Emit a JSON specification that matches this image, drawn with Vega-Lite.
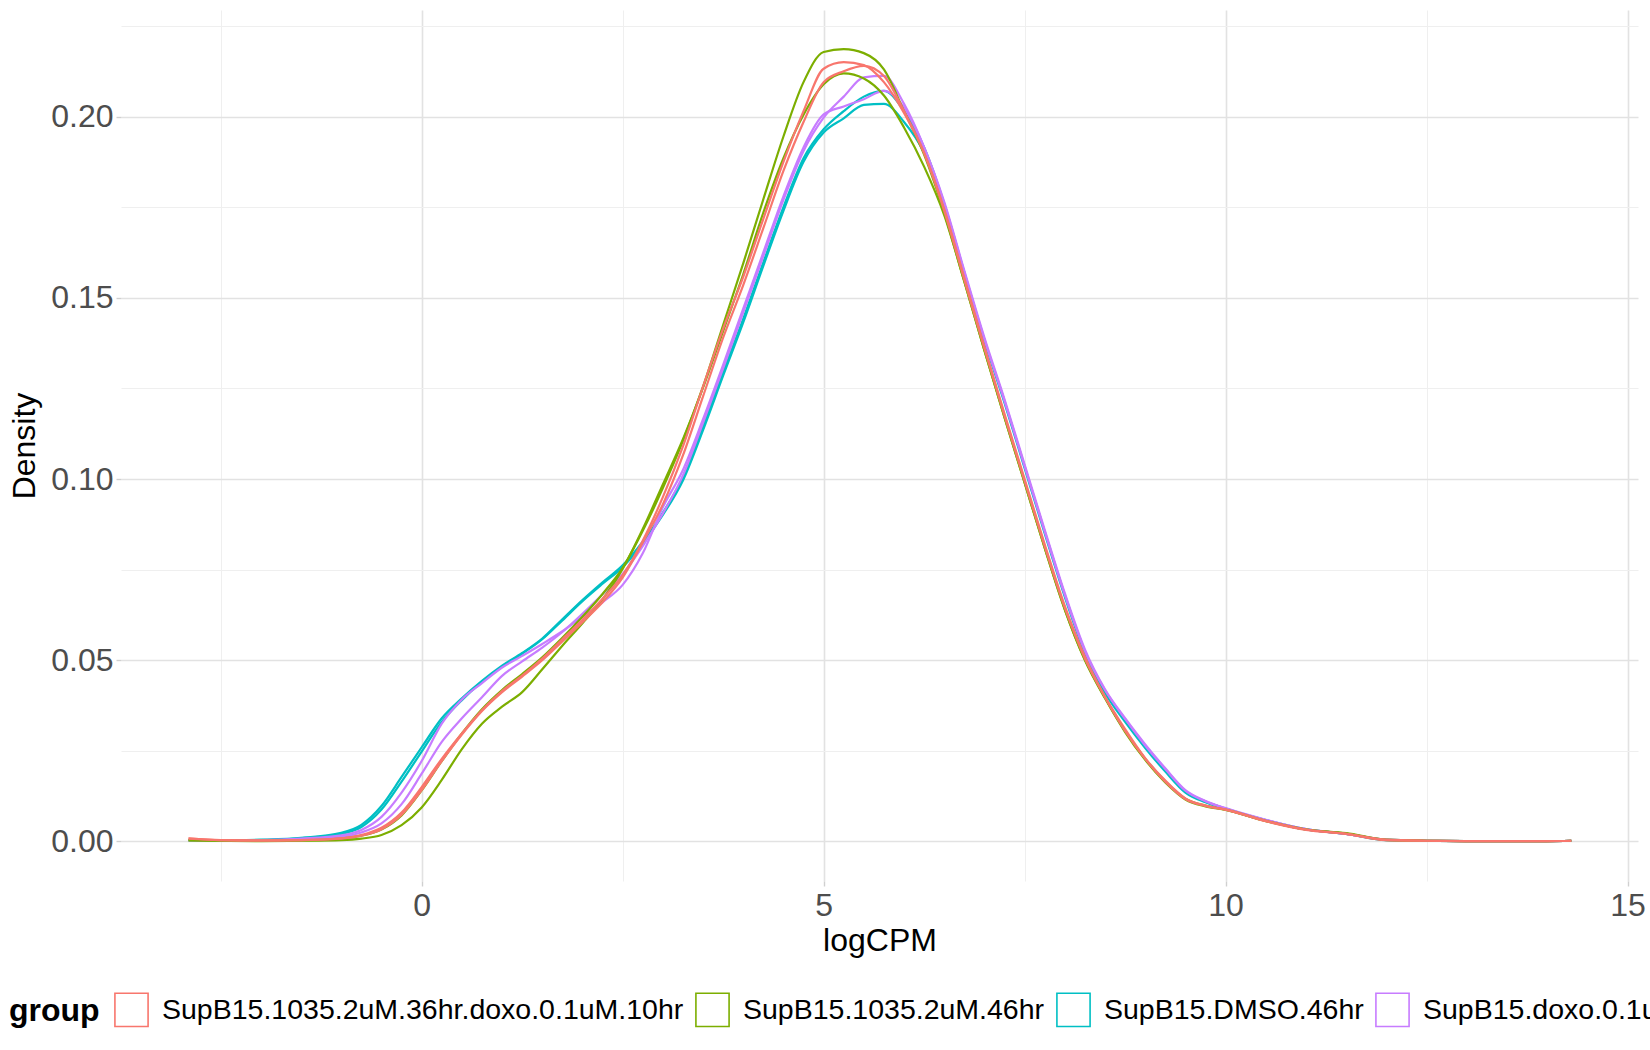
{
  "$schema": "https://vega.github.io/schema/vega-lite/v6.json",
  "width": 1517,
  "height": 871,
  "autosize": "none",
  "padding": {"left": 121, "top": 10, "right": 12, "bottom": 169},
  "background": "white",
  "config": {
    "view": {"stroke": null},
    "font": "Liberation Sans"
  },
  "datasets": {
    "samples": [
      {"sample": "r1", "group": "SupB15.1035.2uM.36hr.doxo.0.1uM.10hr"},
      {"sample": "r2", "group": "SupB15.1035.2uM.36hr.doxo.0.1uM.10hr"},
      {"sample": "g1", "group": "SupB15.1035.2uM.46hr"},
      {"sample": "g2", "group": "SupB15.1035.2uM.46hr"},
      {"sample": "c1", "group": "SupB15.DMSO.46hr"},
      {"sample": "c2", "group": "SupB15.DMSO.46hr"},
      {"sample": "p1", "group": "SupB15.doxo.0.1uM.10hr"},
      {"sample": "p2", "group": "SupB15.doxo.0.1uM.10hr"}
    ],
    "curves": [
      {"x": -2.9, "r1": 0.0009, "r2": 0.0008, "g1": 0.0004, "g2": 0.0003, "c1": 0.0004, "c2": 0.0004, "p1": 0.0004, "p2": 0.0004},
      {"x": -2.5, "r1": 0.0004, "r2": 0.0004, "g1": 0.0002, "g2": 0.0002, "c1": 0.0003, "c2": 0.0003, "p1": 0.0003, "p2": 0.0003},
      {"x": -2, "r1": 0.0003, "r2": 0.0002, "g1": 0.0002, "g2": 0.0001, "c1": 0.0005, "c2": 0.0004, "p1": 0.0004, "p2": 0.0003},
      {"x": -1.5, "r1": 0.0004, "r2": 0.0004, "g1": 0.0003, "g2": 0.0002, "c1": 0.001, "c2": 0.0009, "p1": 0.0008, "p2": 0.0006},
      {"x": -1, "r1": 0.0009, "r2": 0.0008, "g1": 0.0008, "g2": 0.0004, "c1": 0.0024, "c2": 0.0021, "p1": 0.0017, "p2": 0.0013},
      {"x": -0.75, "r1": 0.0018, "r2": 0.0016, "g1": 0.0016, "g2": 0.0008, "c1": 0.0046, "c2": 0.004, "p1": 0.0032, "p2": 0.0025},
      {"x": -0.5, "r1": 0.0038, "r2": 0.0034, "g1": 0.0033, "g2": 0.0018, "c1": 0.0098, "c2": 0.0088, "p1": 0.0068, "p2": 0.005},
      {"x": -0.25, "r1": 0.008, "r2": 0.0074, "g1": 0.0072, "g2": 0.0045, "c1": 0.0178, "c2": 0.0165, "p1": 0.0135, "p2": 0.0103},
      {"x": 0, "r1": 0.015, "r2": 0.0142, "g1": 0.0141, "g2": 0.0094, "c1": 0.026, "c2": 0.0248, "p1": 0.0222, "p2": 0.0187},
      {"x": 0.25, "r1": 0.0228, "r2": 0.0222, "g1": 0.0222, "g2": 0.017, "c1": 0.034, "c2": 0.033, "p1": 0.0325, "p2": 0.0275},
      {"x": 0.5, "r1": 0.0298, "r2": 0.0295, "g1": 0.0298, "g2": 0.0255, "c1": 0.0395, "c2": 0.039, "p1": 0.0392, "p2": 0.034},
      {"x": 0.75, "r1": 0.0362, "r2": 0.036, "g1": 0.0365, "g2": 0.0325, "c1": 0.0443, "c2": 0.044, "p1": 0.0437, "p2": 0.0398},
      {"x": 1, "r1": 0.0415, "r2": 0.0412, "g1": 0.0418, "g2": 0.0372, "c1": 0.0485, "c2": 0.0482, "p1": 0.048, "p2": 0.0457},
      {"x": 1.25, "r1": 0.0458, "r2": 0.0455, "g1": 0.0462, "g2": 0.0412, "c1": 0.052, "c2": 0.0518, "p1": 0.0512, "p2": 0.0497},
      {"x": 1.5, "r1": 0.0505, "r2": 0.05, "g1": 0.0508, "g2": 0.0475, "c1": 0.056, "c2": 0.0558, "p1": 0.0545, "p2": 0.0535},
      {"x": 1.75, "r1": 0.0558, "r2": 0.0552, "g1": 0.0562, "g2": 0.054, "c1": 0.0613, "c2": 0.061, "p1": 0.058, "p2": 0.0578},
      {"x": 2, "r1": 0.0612, "r2": 0.0605, "g1": 0.062, "g2": 0.0602, "c1": 0.0666, "c2": 0.0663, "p1": 0.062, "p2": 0.0628},
      {"x": 2.25, "r1": 0.067, "r2": 0.066, "g1": 0.0683, "g2": 0.0668, "c1": 0.0715, "c2": 0.0711, "p1": 0.066, "p2": 0.0682},
      {"x": 2.5, "r1": 0.0735, "r2": 0.0728, "g1": 0.0755, "g2": 0.0752, "c1": 0.0762, "c2": 0.0757, "p1": 0.0708, "p2": 0.0738},
      {"x": 2.75, "r1": 0.083, "r2": 0.0825, "g1": 0.0857, "g2": 0.0862, "c1": 0.0827, "c2": 0.0822, "p1": 0.0795, "p2": 0.0815},
      {"x": 3, "r1": 0.095, "r2": 0.093, "g1": 0.0975, "g2": 0.0985, "c1": 0.0907, "c2": 0.0901, "p1": 0.0922, "p2": 0.0905},
      {"x": 3.25, "r1": 0.109, "r2": 0.1065, "g1": 0.1105, "g2": 0.111, "c1": 0.1005, "c2": 0.0996, "p1": 0.1025, "p2": 0.101},
      {"x": 3.5, "r1": 0.1255, "r2": 0.1228, "g1": 0.1255, "g2": 0.1252, "c1": 0.1145, "c2": 0.1135, "p1": 0.1165, "p2": 0.1155},
      {"x": 3.75, "r1": 0.1415, "r2": 0.139, "g1": 0.1425, "g2": 0.1408, "c1": 0.1295, "c2": 0.1285, "p1": 0.1315, "p2": 0.1305},
      {"x": 4, "r1": 0.1558, "r2": 0.1535, "g1": 0.1595, "g2": 0.1565, "c1": 0.1442, "c2": 0.1432, "p1": 0.147, "p2": 0.146},
      {"x": 4.25, "r1": 0.1718, "r2": 0.1692, "g1": 0.1772, "g2": 0.1735, "c1": 0.1598, "c2": 0.1588, "p1": 0.1625, "p2": 0.1615},
      {"x": 4.5, "r1": 0.1875, "r2": 0.185, "g1": 0.1945, "g2": 0.1885, "c1": 0.175, "c2": 0.174, "p1": 0.178, "p2": 0.177},
      {"x": 4.75, "r1": 0.2015, "r2": 0.1985, "g1": 0.2095, "g2": 0.2005, "c1": 0.1885, "c2": 0.1875, "p1": 0.1915, "p2": 0.1905},
      {"x": 5, "r1": 0.2132, "r2": 0.2095, "g1": 0.2178, "g2": 0.2089, "c1": 0.1965, "c2": 0.1956, "p1": 0.2006, "p2": 0.1997},
      {"x": 5.25, "r1": 0.215, "r2": 0.2125, "g1": 0.2186, "g2": 0.2119, "c1": 0.2015, "c2": 0.1995, "p1": 0.2028, "p2": 0.2055},
      {"x": 5.5, "r1": 0.2142, "r2": 0.214, "g1": 0.2175, "g2": 0.2105, "c1": 0.2055, "c2": 0.2032, "p1": 0.2048, "p2": 0.2108},
      {"x": 5.75, "r1": 0.2095, "r2": 0.2112, "g1": 0.213, "g2": 0.2058, "c1": 0.2071, "c2": 0.2035, "p1": 0.2071, "p2": 0.2112},
      {"x": 6, "r1": 0.201, "r2": 0.2015, "g1": 0.2015, "g2": 0.197, "c1": 0.2015, "c2": 0.1985, "p1": 0.2025, "p2": 0.2035},
      {"x": 6.25, "r1": 0.19, "r2": 0.19, "g1": 0.1895, "g2": 0.1862, "c1": 0.1915, "c2": 0.19, "p1": 0.1915, "p2": 0.1915},
      {"x": 6.5, "r1": 0.174, "r2": 0.1745, "g1": 0.1735, "g2": 0.1728, "c1": 0.176, "c2": 0.175, "p1": 0.1765, "p2": 0.176},
      {"x": 6.75, "r1": 0.155, "r2": 0.1555, "g1": 0.1545, "g2": 0.1545, "c1": 0.157, "c2": 0.1565, "p1": 0.1575, "p2": 0.157},
      {"x": 7, "r1": 0.136, "r2": 0.1365, "g1": 0.1355, "g2": 0.1355, "c1": 0.1385, "c2": 0.138, "p1": 0.139, "p2": 0.1385},
      {"x": 7.25, "r1": 0.1175, "r2": 0.118, "g1": 0.117, "g2": 0.117, "c1": 0.1215, "c2": 0.121, "p1": 0.122, "p2": 0.1215},
      {"x": 7.5, "r1": 0.0995, "r2": 0.1, "g1": 0.099, "g2": 0.099, "c1": 0.1035, "c2": 0.103, "p1": 0.104, "p2": 0.1035},
      {"x": 7.75, "r1": 0.0815, "r2": 0.082, "g1": 0.081, "g2": 0.081, "c1": 0.0855, "c2": 0.085, "p1": 0.086, "p2": 0.0855},
      {"x": 8, "r1": 0.0645, "r2": 0.065, "g1": 0.064, "g2": 0.064, "c1": 0.068, "c2": 0.0675, "p1": 0.0685, "p2": 0.068},
      {"x": 8.25, "r1": 0.0505, "r2": 0.051, "g1": 0.05, "g2": 0.0502, "c1": 0.0525, "c2": 0.052, "p1": 0.053, "p2": 0.0525},
      {"x": 8.5, "r1": 0.0398, "r2": 0.04, "g1": 0.0395, "g2": 0.0397, "c1": 0.0415, "c2": 0.041, "p1": 0.042, "p2": 0.0418},
      {"x": 8.75, "r1": 0.0305, "r2": 0.031, "g1": 0.0302, "g2": 0.0305, "c1": 0.0335, "c2": 0.033, "p1": 0.034, "p2": 0.0338},
      {"x": 9, "r1": 0.0228, "r2": 0.023, "g1": 0.0225, "g2": 0.0228, "c1": 0.0262, "c2": 0.0258, "p1": 0.0268, "p2": 0.0265},
      {"x": 9.25, "r1": 0.0165, "r2": 0.0168, "g1": 0.0163, "g2": 0.0166, "c1": 0.0197, "c2": 0.0193, "p1": 0.0202, "p2": 0.02},
      {"x": 9.5, "r1": 0.0117, "r2": 0.0119, "g1": 0.0116, "g2": 0.0118, "c1": 0.0138, "c2": 0.0135, "p1": 0.0142, "p2": 0.014},
      {"x": 9.75, "r1": 0.0098, "r2": 0.0099, "g1": 0.0097, "g2": 0.0099, "c1": 0.011, "c2": 0.0108, "p1": 0.0112, "p2": 0.0111},
      {"x": 10, "r1": 0.0088, "r2": 0.0088, "g1": 0.0087, "g2": 0.0088, "c1": 0.0091, "c2": 0.009, "p1": 0.0092, "p2": 0.0091},
      {"x": 10.5, "r1": 0.0056, "r2": 0.0057, "g1": 0.0056, "g2": 0.0057, "c1": 0.0059, "c2": 0.0058, "p1": 0.006, "p2": 0.0059},
      {"x": 11, "r1": 0.0032, "r2": 0.0033, "g1": 0.0033, "g2": 0.0033, "c1": 0.0034, "c2": 0.0033, "p1": 0.0034, "p2": 0.0034},
      {"x": 11.5, "r1": 0.0021, "r2": 0.0021, "g1": 0.0023, "g2": 0.0022, "c1": 0.0021, "c2": 0.0021, "p1": 0.0021, "p2": 0.0021},
      {"x": 12, "r1": 0.0004, "r2": 0.0005, "g1": 0.0005, "g2": 0.0004, "c1": 0.0005, "c2": 0.0004, "p1": 0.0005, "p2": 0.0004},
      {"x": 12.5, "r1": 0.0002, "r2": 0.0002, "g1": 0.0002, "g2": 0.0002, "c1": 0.0002, "c2": 0.0002, "p1": 0.0002, "p2": 0.0002},
      {"x": 13, "r1": 0.0001, "r2": 0.0001, "g1": 0.0001, "g2": 0.0001, "c1": 0.0001, "c2": 0.0001, "p1": 0.0001, "p2": 0.0001},
      {"x": 13.5, "r1": 0.0001, "r2": 0.0001, "g1": 0.0001, "g2": 0.0001, "c1": 0.0001, "c2": 0.0001, "p1": 0.0001, "p2": 0.0001},
      {"x": 14, "r1": 0.0001, "r2": 0.0001, "g1": 0.0001, "g2": 0.0001, "c1": 0.0001, "c2": 0.0001, "p1": 0.0001, "p2": 0.0001},
      {"x": 14.3, "r1": 0.0002, "r2": 0.0002, "g1": 0.0002, "g2": 0.0002, "c1": 0.0002, "c2": 0.0002, "p1": 0.0002, "p2": 0.0002}
    ]
  },
  "data": {"name": "curves"},
  "transform": [
    {"fold": ["c1", "c2", "p1", "p2", "g1", "g2", "r1", "r2"], "as": ["sample", "density"]},
    {"lookup": "sample", "from": {"data": {"name": "samples"}, "key": "sample", "fields": ["group"]}}
  ],
  "mark": {"type": "line", "interpolate": "monotone", "strokeWidth": 2.2, "clip": true},
  "encoding": {
    "x": {
      "field": "x",
      "type": "quantitative",
      "title": "logCPM",
      "scale": {"domain": [-3.74, 15.13], "nice": false, "zero": false},
      "axis": {
        "values": [-2.5, 0, 2.5, 5, 7.5, 10, 12.5, 15],
        "labelExpr": "datum.value % 5 === 0 ? format(datum.value, 'd') : ''",
        "domain": false,
        "grid": true,
        "gridColor": {"condition": {"test": "datum.value % 5 === 0", "value": "#E2E2E2"}, "value": "#EFEFEF"},
        "gridWidth": {"condition": {"test": "datum.value % 5 === 0", "value": 1.6}, "value": 1.1},
        "ticks": true,
        "tickSize": 5,
        "tickColor": "#D0D0D0",
        "tickWidth": 1.4,
        "tickOpacity": {"condition": {"test": "datum.value % 5 === 0", "value": 1}, "value": 0},
        "labelFontSize": 32,
        "labelColor": "#4D4D4D",
        "labelPadding": 4,
        "labelFlush": false,
        "labelOverlap": false,
        "titleFontSize": 32,
        "titleFontWeight": "normal",
        "titleColor": "black",
        "titlePadding": 4
      }
    },
    "y": {
      "field": "density",
      "type": "quantitative",
      "title": "Density",
      "scale": {"domain": [-0.0109, 0.2294], "nice": false, "zero": false},
      "axis": {
        "values": [0, 0.025, 0.05, 0.075, 0.1, 0.125, 0.15, 0.175, 0.2, 0.225],
        "labelExpr": "round(datum.value * 1000) % 50 === 0 ? format(datum.value, '.2f') : ''",
        "domain": false,
        "grid": true,
        "gridColor": {"condition": {"test": "round(datum.value * 1000) % 50 === 0", "value": "#E2E2E2"}, "value": "#EFEFEF"},
        "gridWidth": {"condition": {"test": "round(datum.value * 1000) % 50 === 0", "value": 1.6}, "value": 1.1},
        "ticks": true,
        "tickSize": 5,
        "tickColor": "#D0D0D0",
        "tickWidth": 1.4,
        "tickOpacity": {"condition": {"test": "round(datum.value * 1000) % 50 === 0", "value": 1}, "value": 0},
        "labelFontSize": 32,
        "labelColor": "#4D4D4D",
        "labelPadding": 3,
        "labelOverlap": false,
        "titleFontSize": 32,
        "titleFontWeight": "normal",
        "titleColor": "black",
        "titlePadding": 9
      }
    },
    "color": {
      "field": "group",
      "type": "nominal",
      "scale": {
        "domain": ["SupB15.1035.2uM.36hr.doxo.0.1uM.10hr", "SupB15.1035.2uM.46hr", "SupB15.DMSO.46hr", "SupB15.doxo.0.1uM.10hr"],
        "range": ["#F8766D", "#7CAE00", "#00BFC4", "#C77CFF"]
      },
      "legend": {
        "title": "group",
        "orient": "none",
        "legendX": -112,
        "legendY": 982,
        "direction": "horizontal",
        "titleOrient": "left",
        "titleFontSize": 32,
        "titleFontWeight": "bold",
        "titleColor": "black",
        "titlePadding": 14,
        "titleBaseline": "middle",
        "padding": 0,
        "symbolType": "square",
        "symbolSize": 1100,
        "symbolStrokeWidth": 1.6,
        "symbolFillColor": "white",
        "labelFontSize": 28.5,
        "labelColor": "black",
        "labelOffset": 13,
        "labelLimit": 2000,
        "columnPadding": 8
      }
    },
    "detail": {"field": "sample", "type": "nominal"}
  }
}
